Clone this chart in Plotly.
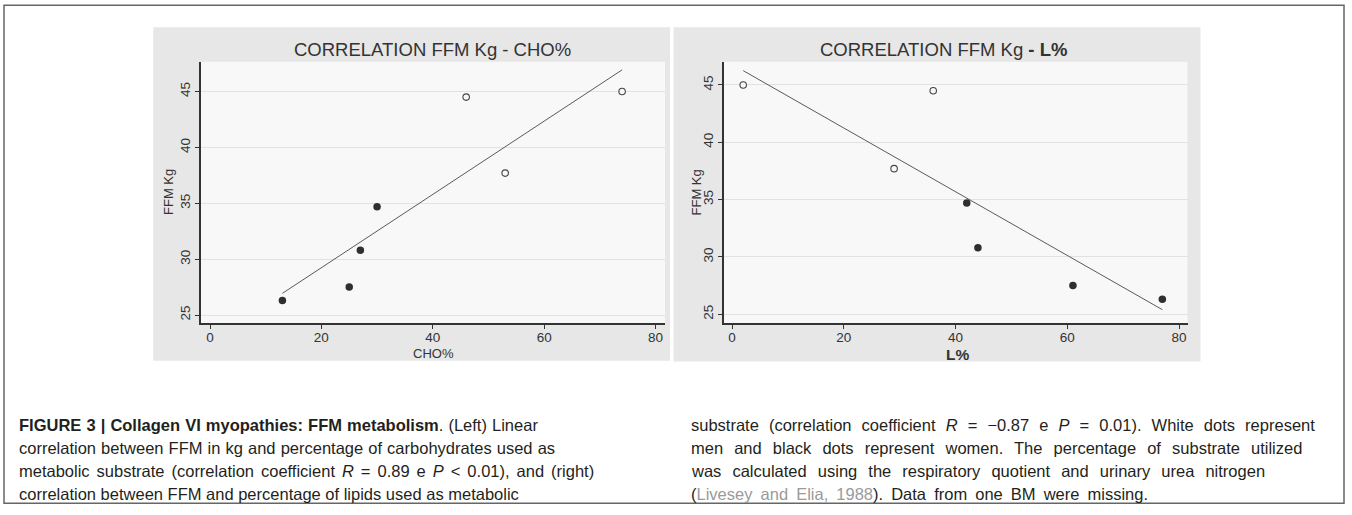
import plotly.graph_objects as go

# ---------------- data ----------------
ffm_kg = [26.3, 27.5, 30.8, 34.7, 44.5, 37.7, 45.0]
cho_pct = [13, 25, 27, 30, 46, 53, 74]
lip_pct = [77, 61, 44, 42, 36, 29, 2]
sex = ["F", "F", "F", "F", "M", "M", "M"]

cho_fit_x = [13, 74]
cho_fit_y = [26.94, 46.94]
lip_fit_x = [2, 77]
lip_fit_y = [46.25, 25.4]

x_ticks = [0, 20, 40, 60, 80]
y_ticks = [25, 30, 35, 40, 45]

left_title = "CORRELATION FFM Kg - CHO%"
right_title = "CORRELATION FFM Kg <b>- L%</b>"
left_xlabel = "CHO%"
right_xlabel = "<b>L%</b>"
ylabel = "FFM Kg"

caption_left = [
    "<b>FIGURE 3 | Collagen VI myopathies: FFM metabolism</b>. (Left) Linear",
    "correlation between FFM in kg and percentage of carbohydrates used as",
    "metabolic substrate (correlation coefficient <i>R</i> = 0.89 e <i>P</i> &lt; 0.01), and (right)",
    "correlation between FFM and percentage of lipids used as metabolic",
]
caption_right = [
    "substrate (correlation coefficient <i>R</i> = \u22120.87 e <i>P</i> = 0.01). White dots represent",
    "men and black dots represent women. The percentage of substrate utilized",
    "was calculated using the respiratory quotient and urinary urea nitrogen",
    "(<span style='color:#9a9a9a'>Livesey and Elia, 1988</span>). Data from one BM were missing.",
]
# extra word spacing (px) per caption line, mimicking the typeset spacing
wsp_left = [0.5, 0.5, 2.4, 0]
wsp_right = [5.5, 6.5, 6.5, 3.5]

# ---------------- layout helpers ----------------
W, H = 1352, 515


def fx(x):
    return x / W


def fy(y):
    return 1 - y / H


FONT = "Liberation Sans, Arial, Helvetica, sans-serif"
DARK = "#333333"

fig = go.Figure()

men = [i for i, s in enumerate(sex) if s == "M"]
women = [i for i, s in enumerate(sex) if s == "F"]

panels = [
    ("x", "y", cho_pct, cho_fit_x, cho_fit_y),
    ("x2", "y2", lip_pct, lip_fit_x, lip_fit_y),
]
for xa, ya, xs, fxs, fys in panels:
    fig.add_trace(go.Scatter(x=fxs, y=fys, mode="lines", xaxis=xa, yaxis=ya,
                             line=dict(color="#5a5a5a", width=1), hoverinfo="skip"))
    fig.add_trace(go.Scatter(x=[xs[i] for i in women], y=[ffm_kg[i] for i in women],
                             mode="markers", xaxis=xa, yaxis=ya,
                             marker=dict(symbol="circle", size=7.5, color="#2f2f2f",
                                         line=dict(width=0))))
    fig.add_trace(go.Scatter(x=[xs[i] for i in men], y=[ffm_kg[i] for i in men],
                             mode="markers", xaxis=xa, yaxis=ya,
                             marker=dict(symbol="circle", size=6.5, color="#f8f8f8",
                                         line=dict(width=1.1, color="#444444"))))

axis_common = dict(showline=True, linecolor=DARK, linewidth=1.5, ticks="outside",
                   ticklen=4, tickwidth=1, tickcolor=DARK, zeroline=False,
                   automargin=False, tickfont=dict(family=FONT, size=13.5, color=DARK))

# plot-area pixel boxes
L_box = (200.7, 665.0, 61.7, 323.3)
R_box = (723.7, 1187.5, 61.7, 323.3)

fig.update_layout(
    xaxis=dict(domain=[fx(L_box[0]), fx(L_box[1])], range=[-1.67, 81.7], anchor="y",
               tickvals=x_ticks, showgrid=False, ticklabelstandoff=-3, **axis_common),
    yaxis=dict(domain=[fy(L_box[3]), fy(L_box[2])], range=[24.26, 47.67], anchor="x",
               tickvals=y_ticks, tickangle=-90, showgrid=True, gridcolor="#e2e2e2",
               gridwidth=1, **axis_common),
    xaxis2=dict(domain=[fx(R_box[0]), fx(R_box[1])], range=[-1.49, 81.5], anchor="y2",
                tickvals=x_ticks, showgrid=False, ticklabelstandoff=-3, **axis_common),
    yaxis2=dict(domain=[fy(R_box[3]), fy(R_box[2])], range=[24.21, 47.03], anchor="x2",
                tickvals=y_ticks, tickangle=-90, showgrid=True, gridcolor="#e2e2e2",
                gridwidth=1, **axis_common),
)

shapes = []
# frame
shapes.append(dict(type="rect", xref="paper", yref="paper", x0=fx(4), x1=fx(1344),
                   y0=fy(503.3), y1=fy(5.3), line=dict(color="#666666", width=1.5),
                   fillcolor="rgba(0,0,0,0)", layer="below"))
# gray graph regions
for x0, x1, y1 in [(153.3, 670.0, 360.7), (673.5, 1200.5, 361.5)]:
    shapes.append(dict(type="rect", xref="paper", yref="paper", x0=fx(x0), x1=fx(x1),
                       y0=fy(y1), y1=fy(27.3), line=dict(width=0),
                       fillcolor="#e7e7e7", layer="below"))
# plot regions
for b in (L_box, R_box):
    shapes.append(dict(type="rect", xref="paper", yref="paper", x0=fx(b[0]), x1=fx(b[1]),
                       y0=fy(b[3]), y1=fy(b[2]), line=dict(width=0),
                       fillcolor="#f8f8f8", layer="below"))

ann = []
# chart titles
ann.append(dict(text=left_title, x=fx(432.5), y=fy(50), xref="paper", yref="paper",
                showarrow=False, xanchor="center", yanchor="middle",
                font=dict(family=FONT, size=18.5, color="#333333")))
ann.append(dict(text=right_title, x=fx(943), y=fy(50), xref="paper", yref="paper",
                showarrow=False, xanchor="center", yanchor="middle",
                font=dict(family=FONT, size=18.5, color="#333333")))
# axis titles
ann.append(dict(text=left_xlabel, x=fx(433), y=fy(353.5), xref="paper", yref="paper",
                showarrow=False, xanchor="center", yanchor="middle",
                font=dict(family=FONT, size=13, color=DARK)))
ann.append(dict(text=right_xlabel, x=fx(957), y=fy(354), xref="paper", yref="paper",
                showarrow=False, xanchor="center", yanchor="middle",
                font=dict(family=FONT, size=15.5, color=DARK)))
for xc in (168.5, 696):
    ann.append(dict(text=ylabel, x=fx(xc), y=fy(192.5), xref="paper", yref="paper",
                    showarrow=False, xanchor="center", yanchor="middle", textangle=-90,
                    font=dict(family=FONT, size=13, color=DARK)))
# caption
line_y = [424.5, 447.5, 470.5, 493.5]
for txt, yy, ws in zip(caption_left, line_y, wsp_left):
    ann.append(dict(text="<span style='word-spacing:%.1fpx'>%s</span>" % (ws, txt),
                    x=fx(16.5), y=fy(yy), xref="paper", yref="paper",
                    showarrow=False, xanchor="left", yanchor="middle",
                    font=dict(family=FONT, size=16.5, color="#231f20")))
for txt, yy, ws in zip(caption_right, line_y, wsp_right):
    ann.append(dict(text="<span style='word-spacing:%.1fpx'>%s</span>" % (ws, txt),
                    x=fx(689), y=fy(yy), xref="paper", yref="paper",
                    showarrow=False, xanchor="left", yanchor="middle",
                    font=dict(family=FONT, size=16.5, color="#231f20")))

fig.update_layout(
    width=W, height=H, margin=dict(l=0, r=0, t=0, b=0, pad=0),
    template="none", showlegend=False,
    paper_bgcolor="white", plot_bgcolor="rgba(0,0,0,0)",
    shapes=shapes, annotations=ann,
)

fig.write_html("out.html", config={"displayModeBar": False},
               post_script="document.body.style.margin='0';document.body.style.overflow='hidden';")
